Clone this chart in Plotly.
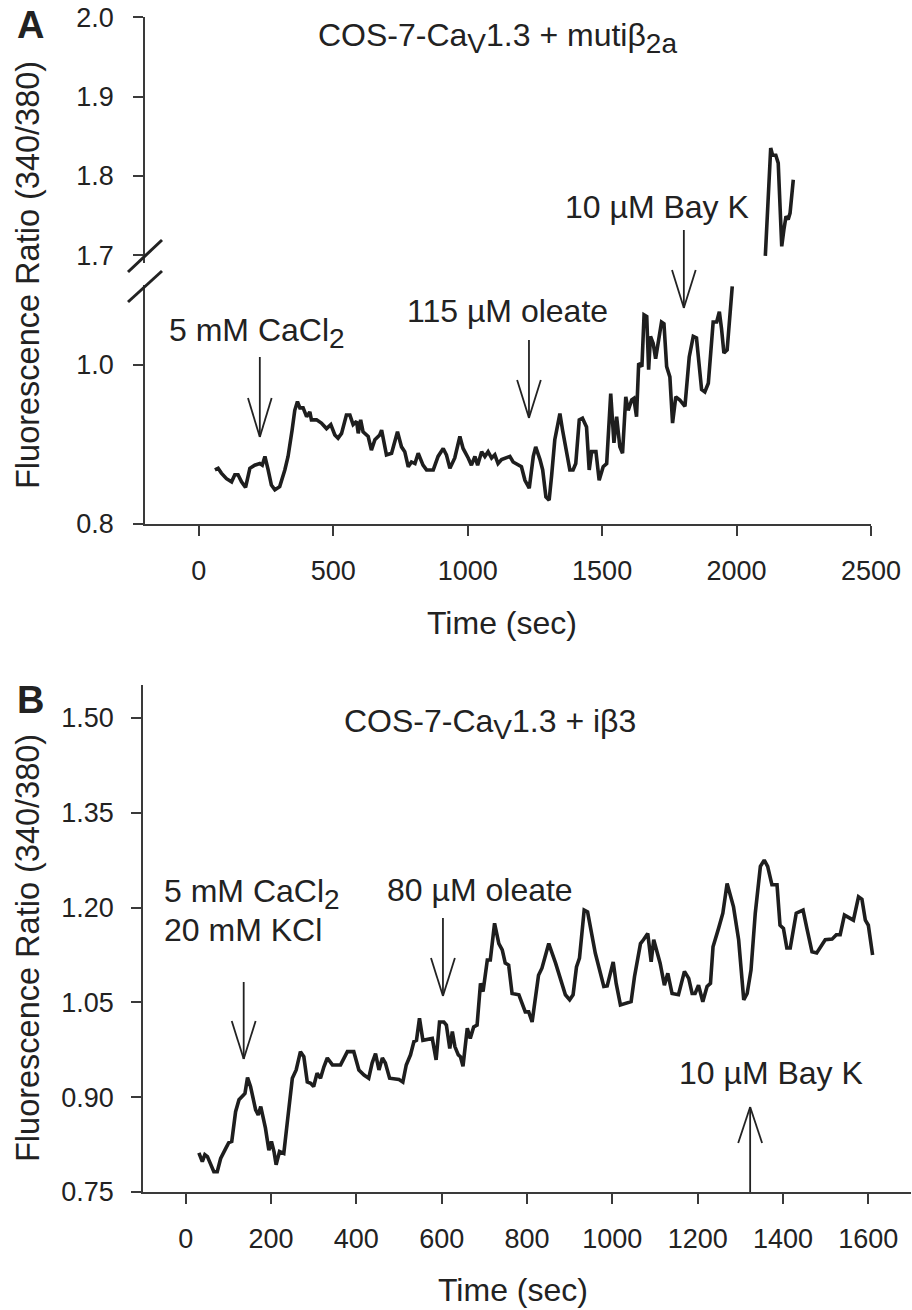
import plotly.graph_objects as go

W, H = 912, 1310
FONT = "Liberation Sans, Arial, sans-serif"
TXT = "#222222"
AX = "#3a3a3a"
LINE = "#1e1e1e"

# ---------------- Panel A data ----------------
a_time = [60, 72, 84, 103, 122, 134, 146, 159, 174, 190,
          208, 227, 236, 246, 258, 270, 283, 301, 320, 332,
          347, 357, 367, 376, 388, 401, 413, 419, 438, 456,
          475, 491, 506, 518, 531, 549, 562, 574, 587, 593,
          602, 611, 630, 642, 655, 673, 680, 698, 717, 739,
          754, 766, 779, 791, 804, 816, 834, 847, 872, 890,
          909, 921, 934, 952, 971, 983, 1002, 1014, 1027, 1037,
          1052, 1064, 1076, 1089, 1101, 1113, 1126, 1138, 1157, 1169,
          1182, 1200, 1213, 1229, 1244, 1253, 1269, 1279, 1291, 1303,
          1312, 1324, 1331, 1343, 1353, 1365, 1380, 1392, 1402, 1415,
          1427, 1442, 1452, 1461, 1477, 1489, 1504, 1517, 1532, 1544,
          1554, 1566, 1576, 1588, 1597, 1610, 1618, 1628, 1636, 1648,
          1656, 1666, 1673, 1680, 1690, 1699, 1709, 1721, 1730, 1740,
          1752, 1762, 1774, 1789, 1808, 1824, 1839, 1851, 1870, 1882,
          1895, 1913, 1926, 1936, 1944, 1953, 1965, 1984]
a_ratio = [0.868, 0.870, 0.864, 0.857, 0.853, 0.862, 0.862, 0.853, 0.846, 0.870,
           0.874, 0.876, 0.874, 0.885, 0.868, 0.849, 0.843, 0.847, 0.868, 0.885,
           0.918, 0.943, 0.954, 0.946, 0.946, 0.935, 0.941, 0.931, 0.931, 0.927,
           0.920, 0.925, 0.912, 0.908, 0.914, 0.937, 0.937, 0.925, 0.929, 0.914,
           0.931, 0.916, 0.910, 0.893, 0.906, 0.912, 0.918, 0.887, 0.889, 0.916,
           0.897, 0.891, 0.872, 0.878, 0.876, 0.889, 0.874, 0.868, 0.868, 0.885,
           0.895, 0.887, 0.870, 0.883, 0.910, 0.895, 0.883, 0.874, 0.885, 0.874,
           0.891, 0.885, 0.891, 0.883, 0.887, 0.876, 0.881, 0.883, 0.885, 0.878,
           0.876, 0.872, 0.855, 0.845, 0.885, 0.897, 0.881, 0.868, 0.834, 0.830,
           0.860, 0.906, 0.918, 0.939, 0.918, 0.893, 0.868, 0.868, 0.876, 0.931,
           0.933, 0.922, 0.868, 0.891, 0.891, 0.855, 0.872, 0.876, 0.964, 0.902,
           0.935, 0.897, 0.889, 0.960, 0.943, 0.956, 0.958, 0.935, 1.002, 0.998,
           1.063, 1.061, 0.994, 1.036, 1.027, 1.008, 1.027, 1.054, 1.052, 0.998,
           0.985, 0.927, 0.960, 0.956, 0.948, 1.010, 1.036, 1.034, 0.969, 0.966,
           0.977, 1.054, 1.054, 1.067, 1.046, 1.015, 1.019, 1.099]
# segment above the axis break
a_time_high = [2107, 2127, 2134, 2146, 2155, 2168, 2176, 2184, 2192, 2199, 2211]
a_ratio_high = [1.699, 1.835, 1.826, 1.826, 1.816, 1.711, 1.732, 1.749, 1.745, 1.753, 1.795]

a_xticks = [0, 500, 1000, 1500, 2000, 2500]
a_yticks_low = [0.8, 1.0]
a_yticks_high = [1.7, 1.8, 1.9, 2.0]

# ---------------- Panel B data ----------------
b_time = [31, 39, 45, 51, 56, 66, 74, 82, 94, 101,
          108, 117, 125, 133, 139, 145, 152, 164, 170, 176,
          183, 187, 195, 201, 207, 212, 220, 230, 238, 250,
          259, 269, 277, 285, 293, 300, 308, 316, 324, 332,
          344, 363, 379, 394, 406, 418, 429, 437, 445, 453,
          461, 468, 478, 500, 509, 517, 527, 535, 541, 548,
          556, 578, 587, 595, 605, 611, 619, 625, 631, 639,
          644, 650, 660, 667, 675, 683, 691, 697, 707, 714,
          724, 734, 742, 749, 757, 765, 781, 796, 804, 812,
          827, 835, 851, 867, 890, 900, 908, 916, 923, 934,
          942, 960, 980, 988, 1002, 1009, 1019, 1034, 1044, 1052,
          1066, 1073, 1083, 1091, 1097, 1112, 1122, 1130, 1140, 1155,
          1169, 1179, 1187, 1194, 1202, 1212, 1222, 1230, 1236, 1249,
          1259, 1269, 1284, 1296, 1308, 1316, 1325, 1335, 1347, 1356,
          1364, 1374, 1386, 1393, 1401, 1409, 1417, 1431, 1447, 1456,
          1468, 1479, 1499, 1515, 1525, 1534, 1544, 1565, 1577, 1585,
          1593, 1600, 1610]
b_ratio = [0.812, 0.798, 0.809, 0.806, 0.798, 0.782, 0.782, 0.803, 0.819, 0.828,
           0.830, 0.877, 0.896, 0.903, 0.906, 0.931, 0.917, 0.880, 0.872, 0.885,
           0.864, 0.851, 0.816, 0.830, 0.814, 0.793, 0.814, 0.811, 0.859, 0.930,
           0.943, 0.972, 0.964, 0.924, 0.922, 0.917, 0.938, 0.930, 0.948, 0.962,
           0.951, 0.951, 0.972, 0.972, 0.943, 0.935, 0.930, 0.954, 0.969, 0.943,
           0.962, 0.954, 0.930, 0.928, 0.924, 0.951, 0.967, 0.988, 0.990, 1.025,
           0.990, 0.993, 0.959, 1.019, 1.019, 1.014, 0.977, 1.004, 0.980, 0.967,
           0.964, 0.949, 1.009, 0.993, 1.011, 1.014, 1.080, 1.067, 1.117, 1.117,
           1.175, 1.143, 1.133, 1.112, 1.109, 1.064, 1.062, 1.035, 1.035, 1.019,
           1.093, 1.104, 1.143, 1.112, 1.062, 1.054, 1.062, 1.106, 1.120, 1.196,
           1.193, 1.128, 1.075, 1.076, 1.114, 1.080, 1.046, 1.049, 1.051, 1.091,
           1.143, 1.149, 1.159, 1.114, 1.149, 1.112, 1.077, 1.096, 1.064, 1.062,
           1.099, 1.088, 1.064, 1.064, 1.077, 1.051, 1.075, 1.080, 1.138, 1.167,
           1.191, 1.238, 1.201, 1.149, 1.054, 1.064, 1.101, 1.191, 1.265, 1.275,
           1.265, 1.236, 1.236, 1.172, 1.167, 1.136, 1.136, 1.191, 1.196, 1.167,
           1.130, 1.128, 1.149, 1.150, 1.157, 1.157, 1.188, 1.180, 1.217, 1.213,
           1.180, 1.172, 1.125]

b_xticks = [0, 200, 400, 600, 800, 1000, 1200, 1400, 1600]
b_yticks = [0.75, 0.90, 1.05, 1.20, 1.35, 1.50]

# event times (sec) marked with arrows
a_events = [227, 1228, 1804]
b_events = [136, 603, 1323]


def px(x):
    return x / W


def py(y):
    return 1 - y / H


fig = go.Figure()
tr = dict(mode="lines", line=dict(color=LINE, width=3.6), showlegend=False, hoverinfo="skip")
fig.add_trace(go.Scatter(x=a_time, y=a_ratio, xaxis="x", yaxis="y", **tr))
fig.add_trace(go.Scatter(x=a_time_high, y=a_ratio_high, xaxis="x", yaxis="y2", **tr))
fig.add_trace(go.Scatter(x=b_time, y=b_ratio, xaxis="x2", yaxis="y3", **tr))

tickfont = dict(family=FONT, size=27, color=TXT)
common = dict(showgrid=False, zeroline=False, showline=True, linecolor=AX, linewidth=1.6,
              ticks="outside", ticklen=10, tickwidth=1.6, tickcolor=AX, tickfont=tickfont,
              automargin=False, fixedrange=True)

fig.update_layout(
    width=W, height=H,
    margin=dict(l=0, r=0, t=0, b=0, pad=0, autoexpand=False),
    paper_bgcolor="white", plot_bgcolor="white",
    font=dict(family=FONT, color=TXT),
    xaxis=dict(domain=[px(145), px(871)], range=[-200, 2500], anchor="y",
               tickvals=a_xticks, ticklabelstandoff=12, **common),
    yaxis=dict(domain=[py(524), py(285)], range=[0.8, 1.1006], anchor="x",
               tickvals=a_yticks_low, tickformat=".1f", ticklabelstandoff=14, **common),
    yaxis2=dict(domain=[py(263), py(17.3)], range=[1.69, 2.0], anchor="x",
                tickvals=a_yticks_high, tickformat=".1f", ticklabelstandoff=14, **common),
    xaxis2=dict(domain=[px(143), px(911)], range=[-100, 1700], anchor="y3",
                tickvals=b_xticks, ticklabelstandoff=12, **common),
    yaxis3=dict(domain=[py(1192), py(685)], range=[0.75, 1.552], anchor="x2",
                tickvals=b_yticks, tickformat=".2f", ticklabelstandoff=12, **common),
)


def text(s, x, y, xanchor="left", size=32, bold=False, angle=0):
    f = dict(family=FONT, size=size, color=TXT)
    fig.add_annotation(text=("<b>%s</b>" % s) if bold else s, x=px(x), y=py(y),
                       xref="paper", yref="paper", xanchor=xanchor, yanchor="middle",
                       showarrow=False, font=f, textangle=angle)


SUB = '<sub><span style="font-size:28px">%s</span></sub>'

# Panel A texts
text("A", 30, 25, xanchor="center", size=38, bold=True)
text("COS-7-Ca" + SUB % "V" + "1.3 + mutiβ" + SUB % "2a", 316, 38, size=32)
text("5 mM CaCl" + SUB % "2", 167, 333, size=32)
text("115 µM oleate", 405, 311, size=32)
text("10 µM Bay K", 563, 207, size=32)
text("Fluorescence Ratio (340/380)", 28, 275, xanchor="center", size=32.5, angle=-90)
text("Time (sec)", 502, 623, xanchor="center", size=32)

# Panel B texts
text("B", 30, 700, xanchor="center", size=38, bold=True)
text("COS-7-Ca" + SUB % "V" + "1.3 + iβ3", 342, 724, size=32)
text("5 mM CaCl" + SUB % "2", 162, 894, size=32)
text("20 mM KCl", 162, 930, size=32)
text("80 µM oleate", 385, 890, size=32)
text("10 µM Bay K", 677, 1073, size=32)
text("Fluorescence Ratio (340/380)", 28, 948, xanchor="center", size=32.5, angle=-90)
text("Time (sec)", 513, 1290, xanchor="center", size=32)


def arrow(xref, t, tail, tip, head, half_w):
    lw = dict(color=TXT, width=1.8)
    fig.add_shape(type="line", xref=xref, yref="paper", x0=t, x1=t, y0=py(tail), y1=py(tip), line=lw)
    fig.add_shape(type="line", xref=xref, yref="paper", x0=t - half_w, x1=t, y0=py(head), y1=py(tip), line=lw)
    fig.add_shape(type="line", xref=xref, yref="paper", x0=t + half_w, x1=t, y0=py(head), y1=py(tip), line=lw)


# Panel A arrows (down)
arrow("x", a_events[0], 357, 437, 398, 44)
arrow("x", a_events[1], 340, 418, 380, 44)
arrow("x", a_events[2], 230, 308, 270, 44)
# Panel B arrows
arrow("x2", b_events[0], 982, 1059, 1021, 28)
arrow("x2", b_events[1], 918, 996, 958, 28)
arrow("x2", b_events[2], 1192, 1107, 1143, 28)

# axis break marks
for (x0, y0, x1, y1) in [(128, 272, 162, 240), (128, 302, 162, 271)]:
    fig.add_shape(type="line", xref="paper", yref="paper", x0=px(x0), y0=py(y0), x1=px(x1), y1=py(y1),
                  line=dict(color=TXT, width=3))

fig.write_html("out.html", config={"displayModeBar": False},
               post_script="document.body.style.margin='0';document.body.style.overflow='hidden';")
